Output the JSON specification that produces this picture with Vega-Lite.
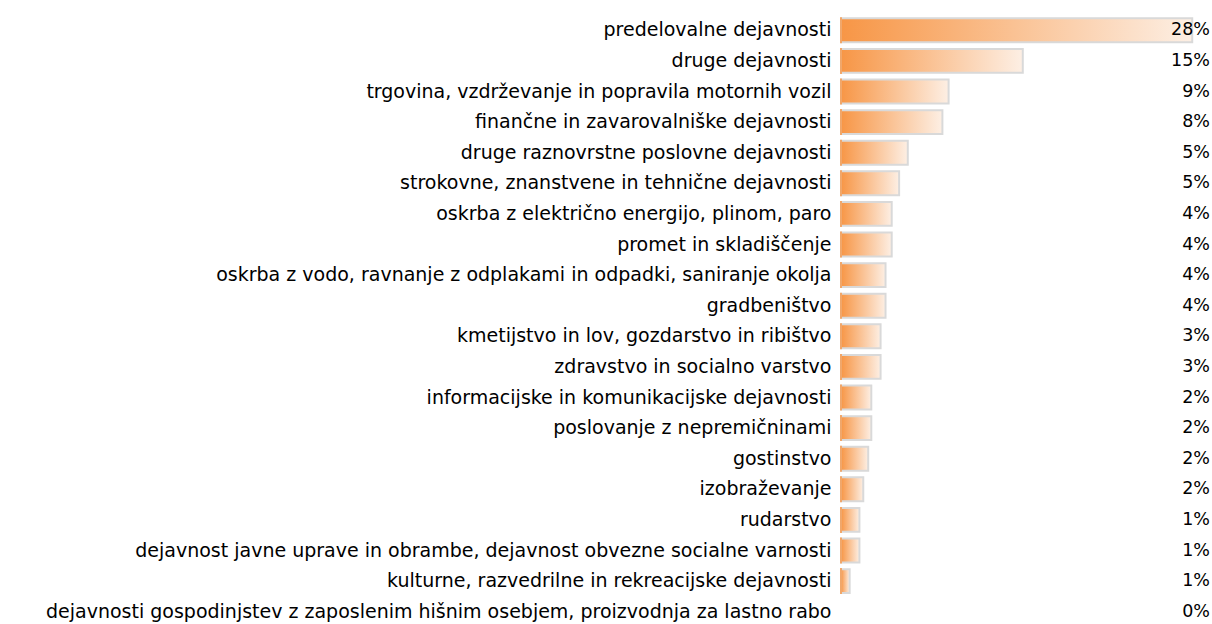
{
  "$schema": "https://vega.github.io/schema/vega-lite/v6.json",
  "width": 371,
  "height": 612,
  "autosize": "none",
  "padding": {"left": 841, "top": 15, "right": 0, "bottom": 0},
  "background": "white",
  "config": {"view": {"stroke": null}, "font": "DejaVu Sans"},
  "data": {"values": [
    {"cat": "predelovalne dejavnosti", "v": 0.284},
    {"cat": "druge dejavnosti", "v": 0.147},
    {"cat": "trgovina, vzdrževanje in popravila motornih vozil", "v": 0.087},
    {"cat": "finančne in zavarovalniške dejavnosti", "v": 0.082},
    {"cat": "druge raznovrstne poslovne dejavnosti", "v": 0.054},
    {"cat": "strokovne, znanstvene in tehnične dejavnosti", "v": 0.047},
    {"cat": "oskrba z električno  energijo, plinom, paro", "v": 0.041},
    {"cat": "promet in skladiščenje", "v": 0.041},
    {"cat": "oskrba z vodo, ravnanje z odplakami in odpadki, saniranje okolja", "v": 0.036},
    {"cat": "gradbeništvo", "v": 0.036},
    {"cat": "kmetijstvo in lov, gozdarstvo in ribištvo", "v": 0.032},
    {"cat": "zdravstvo in socialno varstvo", "v": 0.032},
    {"cat": "informacijske in komunikacijske dejavnosti", "v": 0.0245},
    {"cat": "poslovanje z nepremičninami", "v": 0.0245},
    {"cat": "gostinstvo", "v": 0.022},
    {"cat": "izobraževanje", "v": 0.018},
    {"cat": "rudarstvo", "v": 0.0149},
    {"cat": "dejavnost javne uprave in obrambe, dejavnost obvezne socialne varnosti", "v": 0.0149},
    {"cat": "kulturne, razvedrilne in rekreacijske dejavnosti", "v": 0.007},
    {"cat": "dejavnosti gospodinjstev z zaposlenim hišnim osebjem, proizvodnja za lastno rabo", "v": 0.0}
  ]},
  "encoding": {
    "y": {"field": "cat", "type": "nominal", "sort": null,
      "scale": {"paddingInner": 0.22, "paddingOuter": 0.11},
      "axis": {"title": null, "domain": false, "ticks": false, "labelFontSize": 19, "labelColor": "#000000", "labelPadding": 10, "labelLimit": 0, "labelFont": "DejaVu Sans"}}
  },
  "layer": [
    {
      "transform": [{"filter": "datum.v > 0"}],
      "mark": {"type": "bar", "stroke": "#D9D9D9", "strokeWidth": 2,
        "color": {"gradient": "linear", "x1": 0, "y1": 0, "x2": 1, "y2": 0,
          "stops": [{"offset": 0, "color": "#F79646"}, {"offset": 1, "color": "#FDEFE4"}]}},
      "encoding": {
        "x": {"field": "v", "type": "quantitative", "scale": {"domain": [0, 0.3], "nice": false}, "axis": null}
      }
    },
    {
      "transform": [{"filter": "datum.v > 0"}],
      "mark": {"type": "tick", "orient": "vertical", "color": "#F79646", "thickness": 1.5, "size": 26, "opacity": 1},
      "encoding": {
        "x": {"datum": 0, "type": "quantitative"}
      }
    },
    {
      "mark": {"type": "text", "align": "right", "baseline": "middle", "fontSize": 17.5, "dx": -2, "color": "#000000", "font": "DejaVu Sans"},
      "encoding": {
        "x": {"datum": 0.3, "type": "quantitative"},
        "text": {"field": "v", "type": "quantitative", "format": ".0%"}
      }
    }
  ]
}
